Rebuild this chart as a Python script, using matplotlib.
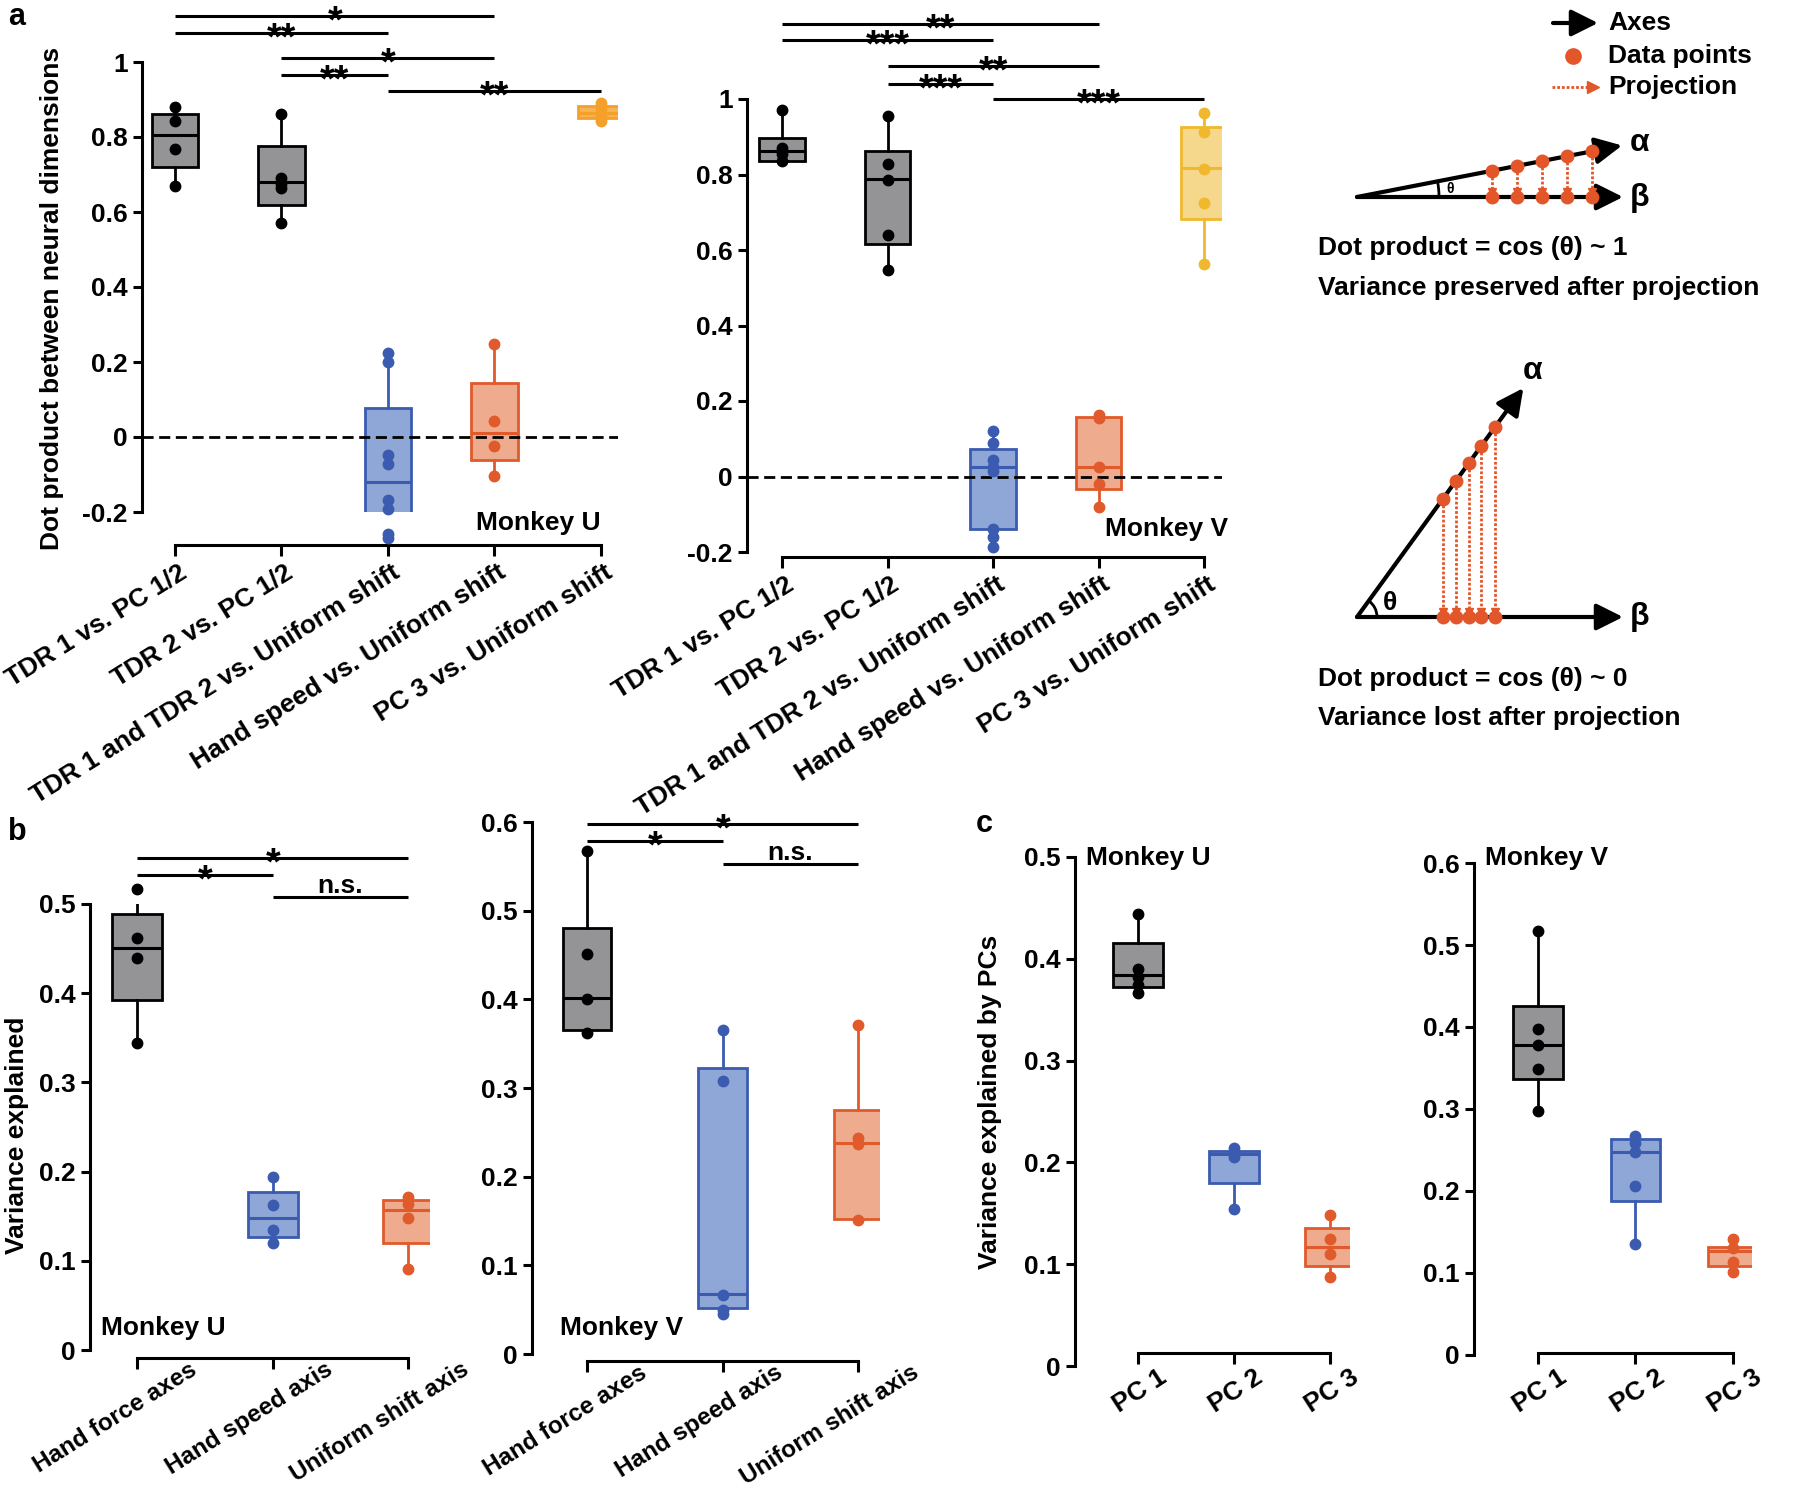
import numpy as np
import matplotlib
matplotlib.use('Agg')
import matplotlib.pyplot as plt
from matplotlib.patches import Arc

W, H = 1800, 1488
plt.rcParams['font.family'] = ['Liberation Sans', 'DejaVu Sans']
plt.rcParams['font.weight'] = 'bold'

GRAY = ('#949497', '#000000')
BLUE = ('#8fa7d6', '#3a5bb0')
ORANGE = ('#eeab8e', '#e05a2b')
AMBER = ('#f6b457', '#f4a02b')
YELLOW = ('#f6d88c', '#f0b82c')
DOT_ORANGE = '#e2562a'

# ---- panel a: dot product between neural dimensions ----
a_labels = ['TDR 1 vs. PC 1/2', 'TDR 2 vs. PC 1/2', 'TDR 1 and TDR 2 vs. Uniform shift',
            'Hand speed vs. Uniform shift', 'PC 3 vs. Uniform shift']
a_yticks = [-0.2, 0, 0.2, 0.4, 0.6, 0.8, 1.0]
a_yticklabels = ['-0.2', '0', '0.2', '0.4', '0.6', '0.8', '1']

a_u_points = [[0.88, 0.842, 0.767, 0.67],
              [0.861, 0.69, 0.675, 0.665, 0.572],
              [0.225, 0.201, -0.048, -0.072, -0.167, -0.191, -0.258, -0.268],
              [0.247, 0.043, -0.024, -0.103],
              [0.89, 0.875, 0.86, 0.842]]
a_u_q1 = [0.72, 0.619, -0.225, -0.062, 0.852]
a_u_med = [0.806, 0.679, -0.12, 0.01, 0.863]
a_u_q3 = [0.861, 0.775, 0.077, 0.145, 0.882]
a_u_sig = [(1, 4, 1.122, '*'), (1, 3, 1.078, '**'), (2, 4, 1.01, '*'),
           (2, 3, 0.965, '**'), (3, 5, 0.923, '**')]

a_v_points = [[0.971, 0.87, 0.853, 0.835],
              [0.955, 0.827, 0.786, 0.641, 0.548],
              [0.12, 0.089, 0.043, 0.024, 0.014, -0.139, -0.159, -0.186],
              [0.163, 0.154, 0.026, -0.019, -0.082],
              [0.962, 0.913, 0.814, 0.724, 0.5625]]
a_v_q1 = [0.835, 0.617, -0.139, -0.034, 0.683]
a_v_med = [0.8625, 0.788, 0.026, 0.024, 0.817]
a_v_q3 = [0.896, 0.861, 0.072, 0.157, 0.926]
a_v_sig = [(1, 4, 1.20, '**'), (1, 3, 1.157, '***'), (2, 4, 1.087, '**'),
           (2, 3, 1.04, '***'), (3, 5, 1.0, '***')]

# ---- panel b: variance explained ----
b_labels = ['Hand force axes', 'Hand speed axis', 'Uniform shift axis']
b_u_points = [[0.517, 0.462, 0.44, 0.344],
              [0.194, 0.162, 0.134, 0.12],
              [0.171, 0.164, 0.148, 0.091]]
b_u_q1 = [0.392, 0.127, 0.12]
b_u_med = [0.451, 0.148, 0.157]
b_u_q3 = [0.489, 0.177, 0.168]
b_u_sig = [(1, 3, 0.552, '*'), (1, 2, 0.533, '*'), (2, 3, 0.508, 'n.s.')]

b_v_points = [[0.567, 0.451, 0.40, 0.362],
              [0.365, 0.308, 0.067, 0.05, 0.045],
              [0.371, 0.244, 0.237, 0.151]]
b_v_q1 = [0.365, 0.052, 0.152]
b_v_med = [0.402, 0.068, 0.238]
b_v_q3 = [0.48, 0.323, 0.275]
b_v_sig = [(1, 3, 0.598, '*'), (1, 2, 0.579, '*'), (2, 3, 0.553, 'n.s.')]

# ---- panel c: variance explained by PCs ----
c_labels = ['PC 1', 'PC 2', 'PC 3']
c_u_points = [[0.444, 0.39, 0.382, 0.374, 0.366],
              [0.214, 0.205, 0.154],
              [0.148, 0.125, 0.11, 0.087]]
c_u_q1 = [0.372, 0.18, 0.098]
c_u_med = [0.384, 0.208, 0.117]
c_u_q3 = [0.416, 0.211, 0.136]

c_v_points = [[0.517, 0.397, 0.378, 0.349, 0.297],
              [0.267, 0.258, 0.247, 0.206, 0.135],
              [0.141, 0.13, 0.113, 0.101]]
c_v_q1 = [0.336, 0.188, 0.109]
c_v_med = [0.378, 0.248, 0.127]
c_v_q3 = [0.426, 0.263, 0.1315]

FS = 19

fig = plt.figure(figsize=(W / 100, H / 100), dpi=100)


def add_ax(x0, y0, x1, y1):
    # pixel box (from top-left) -> figure fraction
    return fig.add_axes([x0 / W, 1 - y1 / H, (x1 - x0) / W, (y1 - y0) / H])


def draw_boxes(ax, points, q1, med, q3, colors, width):
    stats = [dict(med=m, q1=a, q3=b, whislo=min(p), whishi=max(p), fliers=[])
             for p, a, m, b in zip(points, q1, med, q3)]
    pos = np.arange(1, len(points) + 1)
    bp = ax.bxp(stats, positions=pos, widths=width, patch_artist=True,
                showcaps=False, showfliers=False, manage_ticks=False, zorder=2)
    for k, (face, edge) in enumerate(colors):
        bp['boxes'][k].set(facecolor=face, edgecolor=edge, linewidth=2)
        bp['medians'][k].set(color=edge, linewidth=2.2)
        for w in bp['whiskers'][2 * k:2 * k + 2]:
            w.set(color=edge, linewidth=2)
        ax.plot(np.full(len(points[k]), pos[k]), points[k], 'o', ms=7.5,
                color=edge, zorder=4, clip_on=False)


def style(ax, xlim, ylim, yticks, yticklabels, xlabels, drop_px, dx_px, dy_pt, xfs, angle=32):
    ax.set_xlim(*xlim)
    ax.set_ylim(*ylim)
    ax.patch.set_visible(False)
    ax.spines[['top', 'right']].set_visible(False)
    for s in ('left', 'bottom'):
        ax.spines[s].set_linewidth(2.2)
    ax.spines['bottom'].set_position(('outward', drop_px * 0.72))
    ax.spines['bottom'].set_bounds(1, len(xlabels))
    ax.set_xticks(np.arange(1, len(xlabels) + 1))
    ax.set_xticklabels([])
    ax.set_yticks(yticks)
    ax.set_yticklabels(yticklabels)
    ax.tick_params(axis='y', length=6.3, width=2.2, pad=4, labelsize=FS)
    ax.tick_params(axis='x', length=8, width=2.2)
    for k, lab in enumerate(xlabels):
        ax.annotate(lab, (k + 1, 0), xycoords=('data', 'axes fraction'),
                    xytext=(dx_px * 0.72, -(drop_px * 0.72 + dy_pt)), textcoords='offset points',
                    rotation=angle, rotation_mode='anchor', ha='right', va='top',
                    fontsize=xfs, annotation_clip=False)


def sig(ax, comps):
    for i, j, y, lab in comps:
        ax.plot([i, j], [y, y], color='k', lw=2.2, clip_on=False, solid_capstyle='butt')
        if lab.startswith('*'):
            fs, off = 27, -12
        else:
            fs, off = FS, 2.5
        ax.annotate(lab, ((i + j) / 2, y), xytext=(0, off), textcoords='offset points',
                    ha='center', va='baseline', fontsize=fs, annotation_clip=False)


# ---------------- schematic (drawn in pixel space) ----------------
ax_s = fig.add_axes([0, 0, 1, 1])
ax_s.set_xlim(0, W)
ax_s.set_ylim(H, 0)
ax_s.axis('off')

arrow_k = dict(arrowstyle='-|>,head_length=0.9,head_width=0.45', color='k', lw=3,
               mutation_scale=18, shrinkA=0, shrinkB=0)


def proj_arrow(x, y0, y1):
    ax_s.plot([x, x], [y0, y1 - 5], ls=(0, (1, 0.7)), lw=2, color=DOT_ORANGE, zorder=3)
    ax_s.plot(x, y1 - 5, marker='v', ms=6, color=DOT_ORANGE, zorder=3)


def schematic(ox, oy, length_b, length_a, ang, dxs, arc_r, th_xy, th_fs, a_xy, b_xy):
    t = np.deg2rad(ang)
    ax_s.annotate('', xy=(ox + length_b, oy), xytext=(ox, oy), arrowprops=arrow_k)
    ax_s.annotate('', xy=(ox + length_a * np.cos(t), oy - length_a * np.sin(t)),
                  xytext=(ox, oy), arrowprops=arrow_k)
    for dx in dxs:
        ya = oy - dx * np.tan(t)
        proj_arrow(ox + dx, ya + 6, oy)
        ax_s.plot([ox + dx, ox + dx], [ya, oy], 'o', ms=9, color=DOT_ORANGE, zorder=4)
    ax_s.add_patch(Arc((ox, oy), 2 * arc_r, 2 * arc_r, theta1=-ang, theta2=0, lw=2, color='k'))
    ax_s.text(*th_xy, 'θ', fontsize=th_fs, ha='center', va='center')
    ax_s.text(*a_xy, 'α', fontsize=23, ha='center', va='center')
    ax_s.text(*b_xy, 'β', fontsize=23, ha='center', va='center')


schematic(1357, 197, 266, 270, 11, [135, 160, 185, 210, 235], 82, (1450, 189), 10,
          (1640, 143), (1640, 198))
schematic(1357, 617, 266, 283, 54, [86, 99, 112, 124, 138], 20, (1390, 603), 19,
          (1533, 371), (1640, 617))
ax_s.text(1318, 248, 'Dot product = cos (θ) ~ 1', fontsize=FS, va='center')
ax_s.text(1318, 288, 'Variance preserved after projection', fontsize=FS, va='center')
ax_s.text(1318, 679, 'Dot product = cos (θ) ~ 0', fontsize=FS, va='center')
ax_s.text(1318, 718, 'Variance lost after projection', fontsize=FS, va='center')

# legend of the schematic
ax_s.annotate('', xy=(1598, 23), xytext=(1553, 23), arrowprops=arrow_k)
ax_s.plot(1573, 56, 'o', ms=11, color=DOT_ORANGE)
ax_s.plot([1552, 1590], [87, 87], ls=(0, (1, 0.7)), lw=2, color=DOT_ORANGE)
ax_s.plot(1593, 87, marker='>', ms=9, color=DOT_ORANGE)
for yy, txt in zip([23, 56, 87], ['Axes', 'Data points', 'Projection']):
    ax_s.text(1608, yy, txt, fontsize=FS, va='center')

# ---------------- panel a ----------------
ax1 = add_ax(142, 62, 618, 512)
draw_boxes(ax1, a_u_points, a_u_q1, a_u_med, a_u_q3, [GRAY, GRAY, BLUE, ORANGE, AMBER], 0.44)
ax1.axhline(0, color='k', lw=2, ls=(0, (4, 2)), zorder=3)
style(ax1, (0.69, 5.16), (-0.2, 1.0), a_yticks, a_yticklabels, a_labels, 33, 3, 11, FS)
sig(ax1, a_u_sig)
ax1.text(5, -0.23, 'Monkey U', ha='right', va='center', fontsize=FS)

ax2 = add_ax(747, 99, 1222, 552)
draw_boxes(ax2, a_v_points, a_v_q1, a_v_med, a_v_q3, [GRAY, GRAY, BLUE, ORANGE, YELLOW], 0.43)
ax2.axhline(0, color='k', lw=2, ls=(0, (4, 2)), zorder=3)
style(ax2, (0.668, 5.17), (-0.2, 1.0), a_yticks, a_yticklabels, a_labels, 5, 3, 11, FS)
sig(ax2, a_v_sig)
ax2.text(5.23, -0.138, 'Monkey V', ha='right', va='center', fontsize=FS)

# ---------------- panel b ----------------
ax3 = add_ax(90, 904, 430, 1350)
draw_boxes(ax3, b_u_points, b_u_q1, b_u_med, b_u_q3, [GRAY, BLUE, ORANGE], 0.37)
style(ax3, (0.653, 3.16), (0, 0.5), [0, 0.1, 0.2, 0.3, 0.4, 0.5],
      ['0', '0.1', '0.2', '0.3', '0.4', '0.5'], b_labels, 8, 52, 0, 17.5, 32)
sig(ax3, b_u_sig)
ax3.text(0.734, 0.025, 'Monkey U', ha='left', va='center', fontsize=FS)

ax4 = add_ax(532, 822, 880, 1354)
draw_boxes(ax4, b_v_points, b_v_q1, b_v_med, b_v_q3, [GRAY, BLUE, ORANGE], 0.36)
style(ax4, (0.594, 3.16), (0, 0.6), [0, 0.1, 0.2, 0.3, 0.4, 0.5, 0.6],
      ['0', '0.1', '0.2', '0.3', '0.4', '0.5', '0.6'], b_labels, 7, 52, 0, 17.5, 32)
sig(ax4, b_v_sig)
ax4.text(0.8, 0.029, 'Monkey V', ha='left', va='center', fontsize=FS)

# ---------------- panel c ----------------
ax5 = add_ax(1075, 857, 1350, 1366)
draw_boxes(ax5, c_u_points, c_u_q1, c_u_med, c_u_q3, [GRAY, BLUE, ORANGE], 0.52)
style(ax5, (0.344, 3.21), (0, 0.5), [0, 0.1, 0.2, 0.3, 0.4, 0.5],
      ['0', '0.1', '0.2', '0.3', '0.4', '0.5'], c_labels, -13, 20, 9, FS, 33)
ax5.text(0.458, 0.499, 'Monkey U', ha='left', va='center', fontsize=FS)

ax6 = add_ax(1474, 863, 1752, 1355)
draw_boxes(ax6, c_v_points, c_v_q1, c_v_med, c_v_q3, [GRAY, BLUE, ORANGE], 0.51)
style(ax6, (0.34, 3.2), (0, 0.6), [0, 0.1, 0.2, 0.3, 0.4, 0.5, 0.6],
      ['0', '0.1', '0.2', '0.3', '0.4', '0.5', '0.6'], c_labels, -2, 20, 9, FS, 33)
ax6.text(0.454, 0.606, 'Monkey V', ha='left', va='center', fontsize=FS)

# axis titles and panel letters
fig.text(52 / W, 1 - 298 / H, 'Dot product between neural dimensions', rotation=90,
         ha='center', va='center', fontsize=FS)
fig.text(17 / W, 1 - 1135 / H, 'Variance explained', rotation=90,
         ha='center', va='center', fontsize=FS)
fig.text(990 / W, 1 - 1102 / H, 'Variance explained by PCs', rotation=90,
         ha='center', va='center', fontsize=FS)
for xx, yy, letter in [(17, 17, 'a'), (17, 832, 'b'), (984, 824, 'c')]:
    fig.text(xx / W, 1 - yy / H, letter, ha='center', va='center', fontsize=22)

fig.savefig('out.png', dpi=100)
